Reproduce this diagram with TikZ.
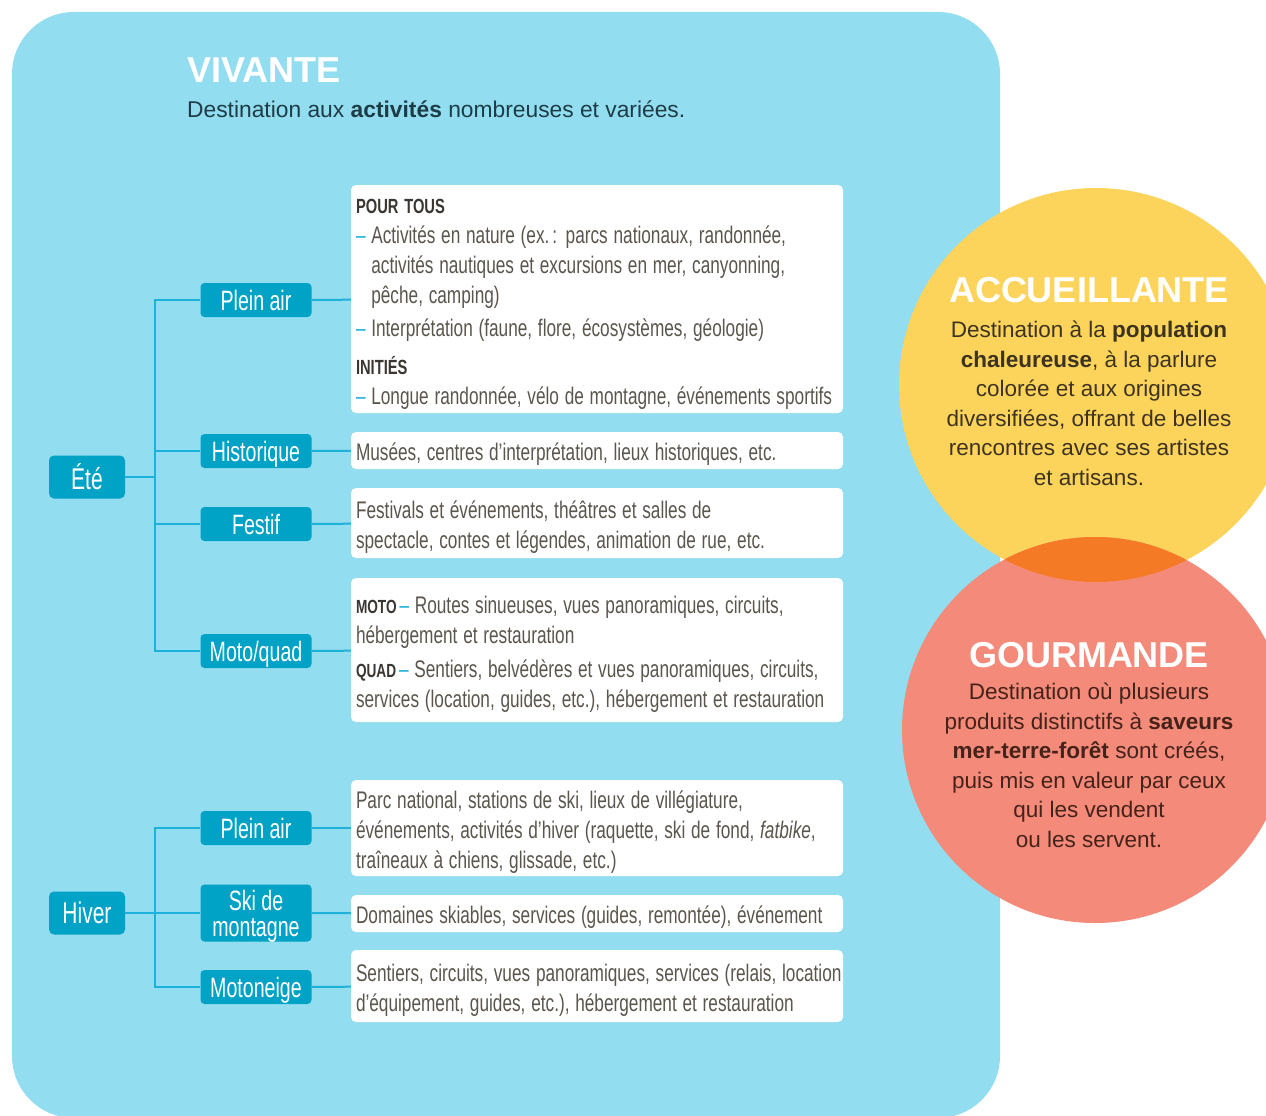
\documentclass[tikz,border=0pt]{standalone}
\usepackage{fontspec}
\usepackage{graphicx}
\setmainfont{Liberation Sans}
\usetikzlibrary{calc}
\definecolor{bgblue}{HTML}{93DDF0}
\definecolor{darkteal}{HTML}{00A2C6}
\definecolor{linkblue}{HTML}{1DB2DA}
\definecolor{sun}{HTML}{FCD45B}
\definecolor{salmon}{HTML}{F48A79}
\definecolor{overlap}{HTML}{F47A26}
\definecolor{greytext}{HTML}{5B564D}
\definecolor{headtext}{HTML}{3B3631}
\definecolor{subtext}{HTML}{1E3C46}
\definecolor{acctext}{HTML}{3D3320}
\definecolor{gourtext}{HTML}{45221A}
\newcommand\etroit[1]{\raisebox{-4pt}[\height][\depth]{\scalebox{0.718}[1]{\begin{tabular}{@{}l@{}}#1\end{tabular}}}}
\newcommand\serre[1]{\raisebox{-4pt}[\height][\depth]{\scalebox{0.70}[1]{\begin{tabular}{@{}c@{}}#1\end{tabular}}}}
\newcommand\tiret{{\color{linkblue}–}\ }
\newcommand\retrait{\hphantom{–\ }}
\newcommand\rubrique[1]{{\color{headtext}\bfseries\fontsize{20.5}{30}\selectfont #1}}
\newcommand\sigle[1]{{\color{headtext}\bfseries\fontsize{19}{30}\selectfont #1}}

\begin{document}
\begin{tikzpicture}
[x=1pt, y=-1pt,
 season/.style={fill=darkteal, rounded corners=5pt, minimum width=76pt, minimum height=43pt, inner sep=0pt, text=white, font=\fontsize{30}{30}\selectfont},
 category/.style={fill=darkteal, rounded corners=4pt, minimum width=111pt, minimum height=34pt, inner sep=0pt, text=white, font=\fontsize{28}{26}\selectfont},
 detail/.style={fill=white, rounded corners=5pt, text width=482pt, inner xsep=5pt, inner ysep=0pt, align=left, text=greytext, font=\fontsize{24}{30}\selectfont},
 link/.style={draw=linkblue, line width=2pt},
 title/.style={inner sep=0pt, text=white, font=\bfseries\fontsize{36}{36}\selectfont},
 blurb/.style={inner sep=0pt, align=center, font=\fontsize{22.5}{29.5}\selectfont}]
\useasboundingbox (0,0) rectangle (1266,1116);
\clip (0,0) rectangle (1266,1116);
\fill[bgblue, rounded corners=62pt] (12,12) rectangle (1000,1118);

\node[title, anchor=base west] (vivtitle) at (187,82) {VIVANTE};
\node[anchor=base west, inner sep=0pt, text=subtext, font=\fontsize{22.8}{22.8}\selectfont] (vivsub) at (187,117) {Destination aux \textbf{activités} nombreuses et variées.};

\node[season] (ete) at (87,477) {\serre{Été}};
\node[category] (eplein) at (256,300) {\serre{Plein air}};
\node[category] (ehisto) at (256,451) {\serre{Historique}};
\node[category] (efestif) at (256,524) {\serre{Festif}};
\node[category] (emoto) at (256,651) {\serre{Moto/quad}};
\coordinate (ejoint) at (155,477);

\node[detail, minimum height=228pt] (deplein) at (597,299) {\etroit{\rubrique{POUR TOUS}\\
\tiret Activités en nature (ex.\,: parcs nationaux, randonnée,\\
\retrait activités nautiques et excursions en mer, canyonning,\\
\retrait pêche, camping)\\[3pt]
\tiret Interprétation (faune, flore, écosystèmes, géologie)\\[8pt]
\rubrique{INITIÉS}\\
\tiret Longue randonnée, vélo de montagne, événements sportifs}};
\node[detail, minimum height=37pt] (dehisto) at (597,450.5) {\etroit{Musées, centres d’interprétation, lieux historiques, etc.}};
\node[detail, minimum height=70pt] (defestif) at (597,523) {\etroit{Festivals et événements, théâtres et salles de\\
spectacle, contes et légendes, animation de rue, etc.}};
\node[detail, minimum height=144pt] (demoto) at (597,650) {\etroit{\sigle{MOTO}\,{\color{linkblue}–} Routes sinueuses, vues panoramiques, circuits,\\
hébergement et restauration\\[4pt]
\sigle{QUAD}\,{\color{linkblue}–} Sentiers, belvédères et vues panoramiques, circuits,\\
services (location, guides, etc.), hébergement et restauration}};

\foreach \c in {eplein,ehisto,efestif,emoto}{
  \draw[link] (ete) -- (ejoint) |- (\c);
  \draw[link] (\c) -- (d\c);
}

\node[season] (hiver) at (87,913) {\serre{Hiver}};
\node[category] (hplein) at (256,828) {\serre{Plein air}};
\node[category, minimum height=57pt] (hski) at (256,913) {\serre{Ski de\\montagne}};
\node[category] (hmoto) at (256,987) {\serre{Motoneige}};
\coordinate (hjoint) at (155,913);

\node[detail, minimum height=96pt] (dhplein) at (597,828) {\etroit{Parc national, stations de ski, lieux de villégiature,\\
événements, activités d’hiver (raquette, ski de fond, \textit{fatbike},\\
traîneaux à chiens, glissade, etc.)}};
\node[detail, minimum height=37pt] (dhski) at (597,913.5) {\etroit{Domaines skiables, services (guides, remontée), événement}};
\node[detail, minimum height=72pt] (dhmoto) at (597,986) {\etroit{Sentiers, circuits, vues panoramiques, services (relais, location\\
d’équipement, guides, etc.), hébergement et restauration}};

\foreach \c in {hplein,hski,hmoto}{
  \draw[link] (hiver) -- (hjoint) |- (\c);
  \draw[link] (\c) -- (d\c);
}

\node[circle, fill=sun, minimum size=394pt, inner sep=0pt] (acc) at (1096,385) {};
\node[circle, fill=salmon, minimum size=386pt, inner sep=0pt] (gour) at (1095,730) {};
\begin{scope}
  \clip (acc.center) circle[radius=197pt];
  \fill[overlap] (gour.center) circle[radius=193pt];
\end{scope}

\node[title, anchor=base] (acctitle) at (1089,302) {ACCUEILLANTE};
\node[blurb, text=acctext, anchor=north] (accblurb) at (1089,321) {Destination à la \textbf{population}\\
\textbf{chaleureuse}, à la parlure\\
colorée et aux origines\\
diversifiées, offrant de belles\\
rencontres avec ses artistes\\
et artisans.};

\node[title, anchor=base] (gourtitle) at (1089,667) {GOURMANDE};
\node[blurb, text=gourtext, anchor=north] (gourblurb) at (1089,683) {Destination où plusieurs\\
produits distinctifs à \textbf{saveurs}\\
\textbf{mer-terre-forêt} sont créés,\\
puis mis en valeur par ceux\\
qui les vendent\\
ou les servent.};
\end{tikzpicture}
\end{document}
